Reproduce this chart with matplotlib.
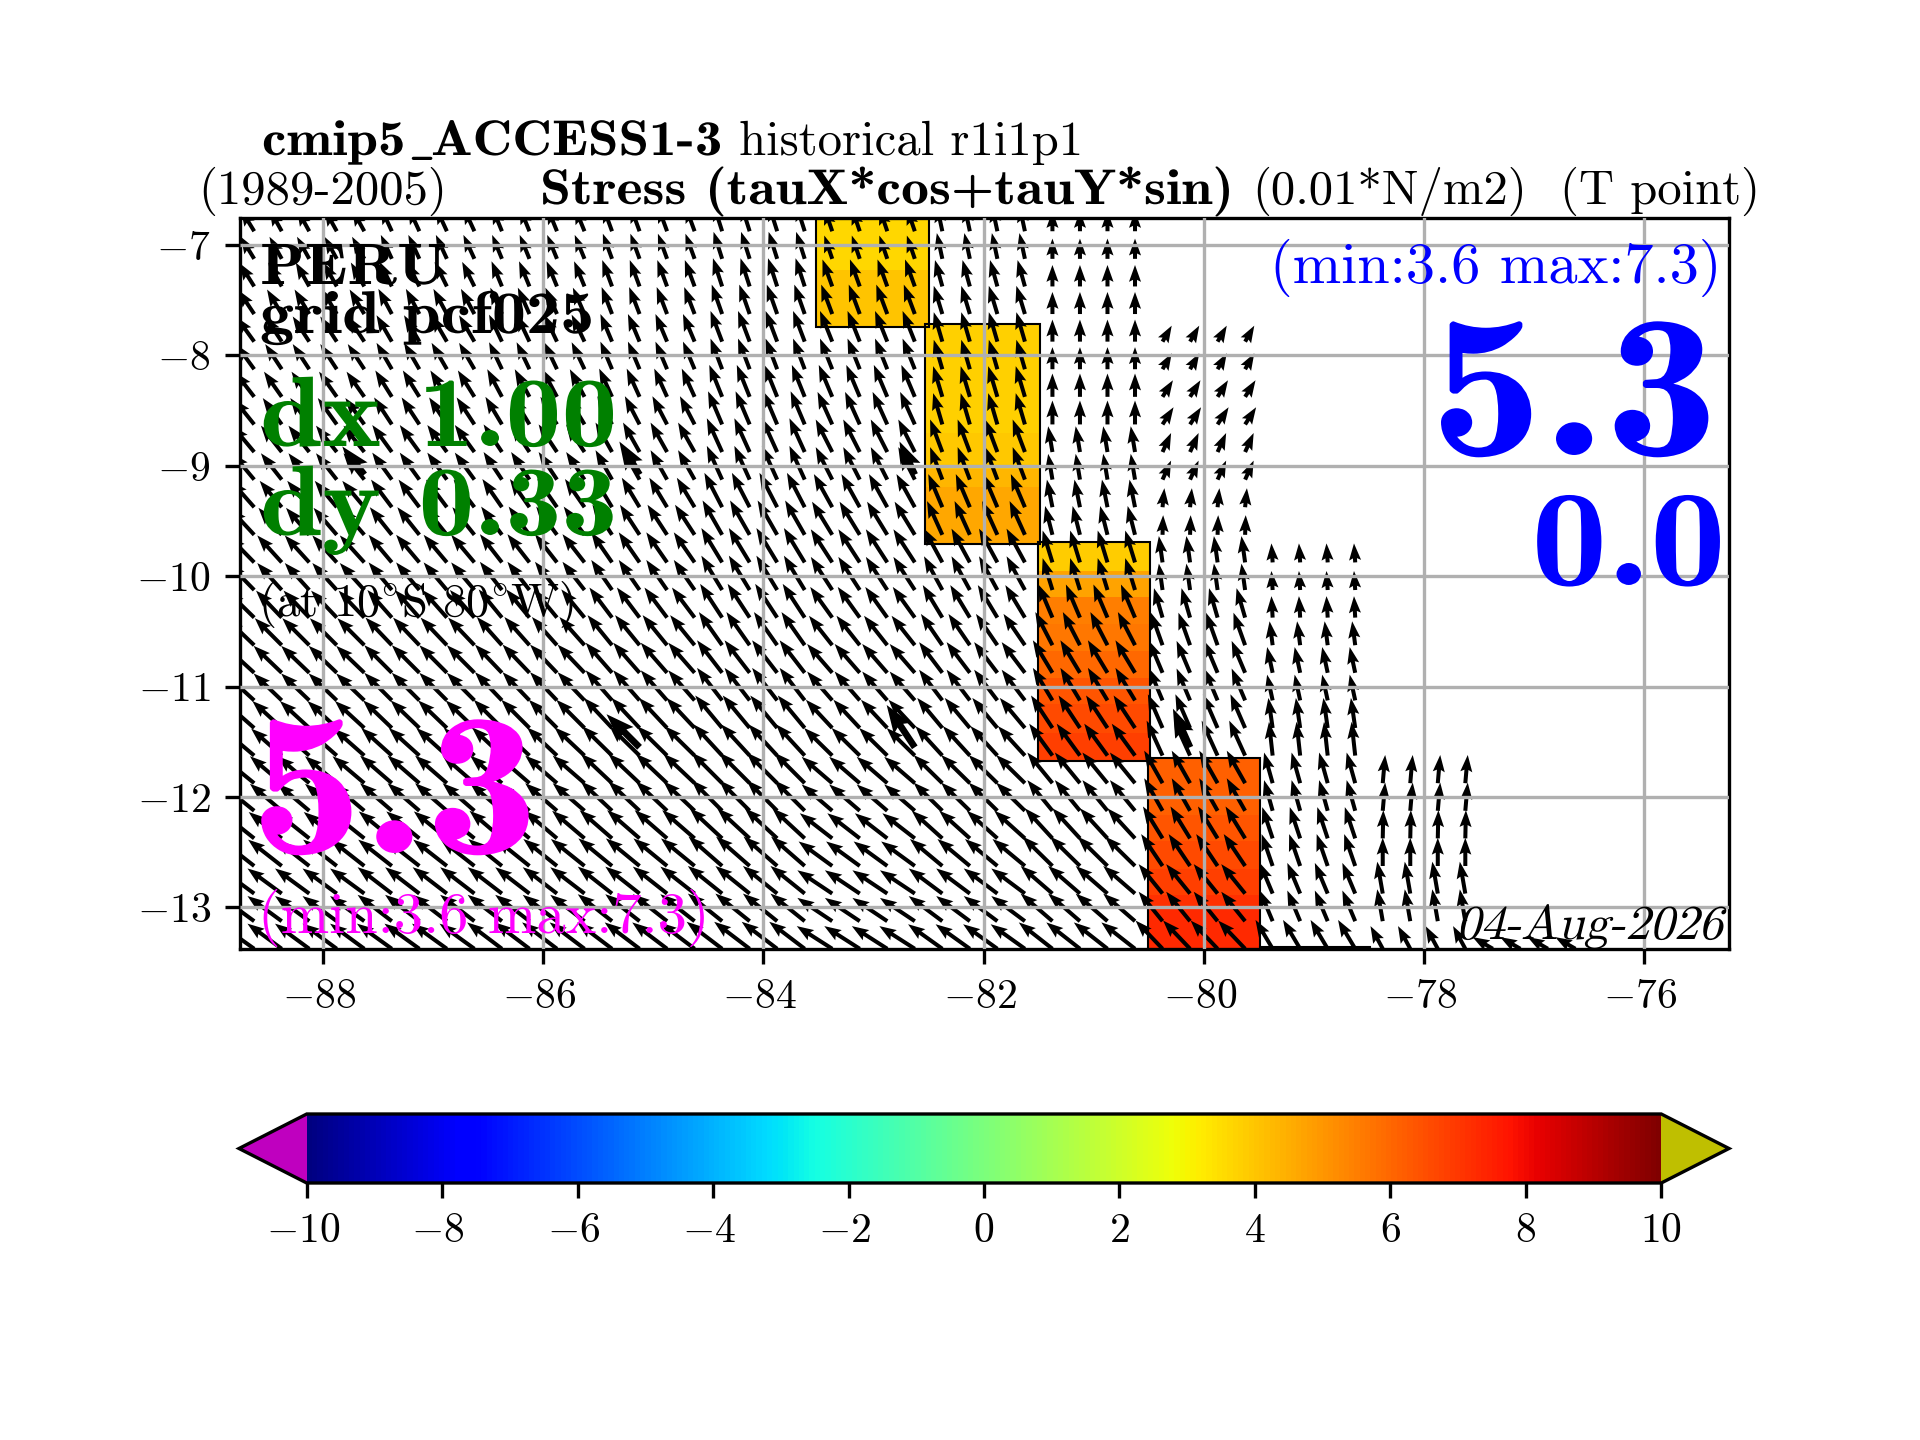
#!/usr/bin/env python
import numpy as np
import matplotlib
matplotlib.use("Agg")
import matplotlib.pyplot as plt
from matplotlib.patches import Rectangle
from matplotlib.patheffects import AbstractPathEffect
from matplotlib.transforms import Affine2D, ScaledTranslation

nan = float("nan")

plt.rcParams["font.family"] = ["cmr10", "DejaVu Sans"]
plt.rcParams["mathtext.fontset"] = "cm"
plt.rcParams["axes.formatter.use_mathtext"] = True
plt.rcParams["axes.unicode_minus"] = True

# model cells: 1 deg in x, 1/3 deg in y
cell_lon = [-89, -88, -87, -86, -85, -84, -83, -82, -81, -80, -79, -78, -77]
cell_lat = [-7.0, -7.33, -7.67, -8.0, -8.33, -8.67, -9.0, -9.33, -9.67, -10.0,
            -10.33, -10.67, -11.0, -11.33, -11.67, -12.0, -12.33, -12.67, -13.0, -13.33]

tau_u = [
    [-2.2, -2.0, -1.8, -1.6, -1.5, -1.4, -1.3, -0.9, 0.0, nan, nan, nan, nan],
    [-2.4, -2.2, -2.0, -1.7, -1.6, -1.5, -1.6, -1.2, 0.0, nan, nan, nan, nan],
    [-2.6, -2.4, -2.2, -1.9, -1.7, -1.7, -1.8, -1.4, 0.0, nan, nan, nan, nan],
    [-2.9, -2.7, -2.5, -2.1, -1.9, -1.9, -2.0, -1.4, 0.0, 1.5, nan, nan, nan],
    [-3.1, -2.9, -2.7, -2.4, -2.1, -2.1, -2.2, -1.5, 0.0, 1.7, nan, nan, nan],
    [-3.3, -3.1, -2.9, -2.7, -2.4, -2.3, -2.4, -1.5, 0.0, 1.8, nan, nan, nan],
    [-3.6, -3.4, -3.2, -3.0, -2.7, -2.5, -2.7, -2.0, -0.7, 1.4, nan, nan, nan],
    [-3.8, -3.6, -3.4, -3.2, -2.9, -2.9, -3.0, -2.3, -0.9, 0.3, nan, nan, nan],
    [-4.0, -3.8, -3.6, -3.4, -3.2, -3.2, -3.3, -2.5, -1.2, 0.1, nan, nan, nan],
    [-4.2, -4.0, -3.8, -3.6, -3.4, -3.4, -3.5, -3.0, -1.6, -0.6, -0.2, nan, nan],
    [-4.4, -4.2, -4.0, -3.8, -3.7, -3.6, -3.6, -3.2, -2.3, -1.4, -0.2, nan, nan],
    [-4.5, -4.4, -4.3, -4.1, -4.0, -3.8, -3.8, -3.5, -2.8, -1.9, -0.5, nan, nan],
    [-4.7, -4.6, -4.5, -4.4, -4.3, -4.1, -4.1, -3.8, -3.2, -2.2, -0.9, nan, nan],
    [-4.9, -4.8, -4.7, -4.6, -4.6, -4.4, -4.3, -4.1, -3.5, -2.4, -0.7, nan, nan],
    [-5.1, -5.0, -5.0, -4.9, -4.9, -4.7, -4.6, -4.4, -3.8, -2.6, -0.6, nan, nan],
    [-5.3, -5.2, -5.2, -5.2, -5.1, -5.0, -5.0, -4.7, -4.1, -3.0, -1.4, 0.4, nan],
    [-5.4, -5.4, -5.4, -5.3, -5.3, -5.3, -5.3, -5.0, -4.5, -3.2, -1.7, 0.1, nan],
    [-5.5, -5.5, -5.5, -5.5, -5.5, -5.5, -5.5, -5.3, -4.9, -3.5, -1.8, 0.0, nan],
    [-5.6, -5.6, -5.6, -5.6, -5.6, -5.6, -5.7, -5.5, -5.2, -3.9, -2.1, -0.9, nan],
    [-5.6, -5.6, -5.7, -5.7, -5.7, -5.8, -5.8, -5.6, -5.5, -4.4, -2.8, -2.0, -3.3],
]
tau_v = [
    [3.6, 3.6, 3.9, 3.9, 4.1, 4.4, 3.8, 4.2, 3.3, nan, nan, nan, nan],
    [3.8, 3.9, 4.0, 4.1, 4.3, 4.6, 4.4, 4.3, 3.5, nan, nan, nan, nan],
    [3.9, 4.0, 4.1, 4.3, 4.4, 4.8, 4.8, 4.6, 3.6, nan, nan, nan, nan],
    [4.0, 4.1, 4.3, 4.4, 4.5, 5.0, 5.0, 4.8, 3.6, 2.6, nan, nan, nan],
    [4.0, 4.1, 4.3, 4.5, 4.6, 5.2, 5.2, 5.0, 3.8, 2.7, nan, nan, nan],
    [4.1, 4.3, 4.4, 4.5, 4.6, 5.4, 5.3, 5.1, 3.9, 2.8, nan, nan, nan],
    [4.3, 4.3, 4.4, 4.5, 4.8, 5.5, 5.3, 5.3, 4.2, 3.1, nan, nan, nan],
    [4.3, 4.3, 4.5, 4.6, 4.8, 5.6, 5.4, 5.4, 4.5, 3.1, nan, nan, nan],
    [4.3, 4.4, 4.5, 4.6, 4.9, 5.6, 5.4, 5.5, 4.7, 3.2, nan, nan, nan],
    [4.3, 4.4, 4.5, 4.6, 4.9, 5.6, 5.4, 5.5, 5.2, 4.3, 3.1, nan, nan],
    [4.3, 4.4, 4.5, 4.6, 4.9, 5.5, 5.0, 5.3, 5.4, 4.8, 3.5, nan, nan],
    [4.3, 4.4, 4.5, 4.6, 4.9, 5.4, 4.8, 5.1, 5.4, 5.3, 3.9, nan, nan],
    [4.3, 4.4, 4.5, 4.6, 4.9, 5.3, 4.7, 5.0, 5.3, 5.2, 4.2, nan, nan],
    [4.3, 4.4, 4.5, 4.6, 4.9, 5.3, 4.6, 4.9, 5.3, 5.5, 4.9, nan, nan],
    [4.3, 4.4, 4.5, 4.6, 4.8, 5.1, 4.5, 4.8, 5.2, 5.7, 5.5, nan, nan],
    [4.3, 4.4, 4.5, 4.5, 4.8, 5.0, 4.3, 4.6, 5.0, 5.3, 5.0, 4.6, nan],
    [4.3, 4.3, 4.4, 4.5, 4.6, 4.9, 4.1, 4.5, 4.9, 5.2, 5.1, 4.6, nan],
    [4.3, 4.3, 4.3, 4.4, 4.5, 4.8, 4.0, 4.4, 4.8, 5.2, 5.2, 4.6, nan],
    [4.1, 4.1, 4.3, 4.3, 4.4, 4.5, 3.8, 4.1, 4.5, 4.8, 5.0, 5.2, nan],
    [4.0, 4.1, 4.1, 4.3, 4.3, 4.4, 3.7, 4.0, 4.3, 4.6, 4.7, 3.7, 1.9],
]

# six arrows that come out fatter and longer
fat_lon = [-87.625, -85.125, -82.625, -85.125, -82.625, -80.125]
fat_lat = [-9.08, -9.08, -9.08, -11.55, -11.55, -11.55]
fat_u = [-3.6, -3.3, -2.5, -5.4, -4.6, -2.8]
fat_v = [4.6, 5.4, 5.4, 5.4, 6.9, 6.3]

# coastal stress boxes: lon edges, lat edges of bands, value per band
box1_lon = [-83.52, -82.5]
box1_lat = [-6.6, -7.23, -7.74]
box1_val = [3.66, 4.04]
box2_lon = [-82.53, -81.49]
box2_lat = [-7.715, -8.70, -9.03, -9.19, -9.71]
box2_val = [3.8, 3.95, 4.3, 4.64]
box3_lon = [-81.51, -80.49]
box3_lat = [-9.69, -9.95, -10.19, -10.43, -10.68, -10.92, -11.16, -11.42, -11.676]
box3_val = [3.88, 4.7, 5.5, 5.68, 5.95, 6.4, 6.58, 6.85]
box4_lon = [-80.51, -79.49]
box4_lat = [-11.645, -12.16, -12.40, -12.65, -12.89, -13.01, -13.45]
box4_val = [6.17, 6.4, 6.58, 6.85, 7.12, 7.3]
boxes = [(box1_lon, box1_lat, box1_val), (box2_lon, box2_lat, box2_val),
         (box3_lon, box3_lat, box3_val), (box4_lon, box4_lat, box4_val)]

xticks = [-88, -86, -84, -82, -80, -78, -76]
yticks = [-7, -8, -9, -10, -11, -12, -13]
cbar_ticks = [-10, -8, -6, -4, -2, 0, 2, 4, 6, 8, 10]

fig = plt.figure(figsize=(6.4, 4.8), dpi=300)
ax = fig.add_axes([240 / 1920, 1 - 949 / 1440, 1489 / 1920, 731 / 1440])

cmap = plt.get_cmap("jet").copy()
cmap.set_under((0.75, 0, 0.75))
cmap.set_over((0.75, 0.75, 0))

for b_lon, b_lat, b_val in boxes:
    pm = ax.pcolormesh(b_lon, b_lat, np.array(b_val).reshape(-1, 1), cmap=cmap, vmin=-10, vmax=10, zorder=0.5)
    ax.add_patch(Rectangle((b_lon[0], b_lat[-1]), b_lon[1] - b_lon[0], b_lat[0] - b_lat[-1],
                           fill=False, ec="k", lw=0.5, zorder=0.9))
# thin strip along the bottom edge
ax.add_patch(Rectangle((-79.49, -13.5), 1.0, 0.145, fill=False, ec="k", lw=0.5, zorder=0.9))


def lookup(lon, lat):
    i = int(np.argmin(np.abs(np.array(cell_lat) - lat)))
    j = int(np.argmin(np.abs(np.array(cell_lon) - lon)))
    return tau_u[i][j], tau_v[i][j]


# the field is plotted on the 0.25 deg grid
xs, ys, us, vs = [], [], [], []
for lat in np.arange(-6.875, -13.5, -0.25):
    for lon in np.arange(-88.625, -76.5, 0.25):
        u, v = lookup(lon, lat)
        if np.isnan(u):
            continue
        xs.append(lon)
        ys.append(lat)
        us.append(u)
        vs.append(v)

head = dict(headwidth=3, headlength=4.2, headaxislength=3.7)
ax.quiver(xs, ys, us, vs, angles="xy", scale_units="xy", scale=18, units="width", width=0.0027, zorder=1, **head)
ax.quiver(fat_lon, fat_lat, fat_u, fat_v, angles="xy", scale_units="xy", scale=18,
          units="width", width=0.0045, zorder=1, **head)

ax.set_xlim(-88.754, -75.23)
ax.set_ylim(-13.377, -6.755)
ax.set_xticks(xticks)
ax.set_yticks(yticks)
ax.grid(True)
ax.set_axisbelow(False)

cax = fig.add_axes([239 / 1920, 1 - 1183 / 1440, 1490 / 1920, 69 / 1440])
sm = plt.cm.ScalarMappable(cmap=cmap, norm=plt.Normalize(-10, 10))
fig.colorbar(sm, cax=cax, orientation="horizontal", extend="both", ticks=cbar_ticks)

# mathtext minus sits a few px right of where the original has it
shift = ScaledTranslation(-4 / 300, 0, fig.dpi_scale_trans)
for lab in ax.get_xticklabels() + cax.get_xticklabels():
    if "-" in lab.get_text() or "\u2212" in lab.get_text():
        lab.set_transform(lab.get_transform() + shift)


class Warp(AbstractPathEffect):
    # stretch for cmb10 (narrower than the original's bold), skew for the slanted date
    def __init__(self, x0, y0, k=1, skew=0):
        super().__init__()
        self.m = Affine2D().translate(-x0, -y0).skew_deg(skew, 0).scale(k, 1).translate(x0, y0)

    def draw_path(self, renderer, gc, tpath, affine, rgbFace=None):
        renderer.draw_path(gc, tpath, affine + self.m, rgbFace)


def put(x, y, s, k=1, skew=0, **kw):
    # x, y in pixels of the final png (y from the top), baseline anchored
    t = fig.text(x / 1920, 1 - y / 1440, s, va="baseline", zorder=5, **kw)
    if k != 1 or skew:
        t.set_path_effects([Warp(x, 1440 - y, k, skew)])
    return t


bold = ["cmb10", "DejaVu Sans"]
put(262, 155, "cmip5", k=1.10, family=bold, fontsize=12)
put(408, 155, r"$\_$", fontsize=12)
put(431, 155, "ACCESS1-3", k=1.10, family=bold, fontsize=12)
put(739, 155, "historical r1i1p1", fontsize=11.7)
put(198, 204, "(1989-2005)", fontsize=11.7)
put(540, 204, "Stress (tauX*cos+tauY*sin)", k=1.115, family=bold, fontsize=12)
put(1252, 204, "(0.01*N/m2)", fontsize=11.7)
put(1560, 204, "(T point)", fontsize=11.7)

put(260, 284, "PERU", k=1.12, family=bold, fontsize=14)
put(260, 333, "grid pcf025", k=1.13, family=bold, fontsize=14.5)
put(260, 446, "dx 1.00", k=1.12, family=bold, color="green", fontsize=24)
put(260, 535, "dy 0.33", k=1.12, family=bold, color="green", fontsize=24)
put(258, 616, r"(at 10$^{\circ}$S 80$^{\circ}$W)", fontsize=11.2)
put(250, 853, "5.3", k=1.106, family=bold, color="magenta", fontsize=49)
put(258, 933, "(min:3.6 max:7.3)", color="magenta", fontsize=14)

put(1722, 283, "(min:3.6 max:7.3)", color="blue", fontsize=14, ha="right")
put(1718, 455, "5.3", k=1.106, family=bold, color="blue", fontsize=49, ha="right")
put(1726, 585, "0.0", k=1.11, family=bold, color="blue", fontsize=33, ha="right")
put(1456, 939, "04-Aug-2026", skew=14, fontsize=11.7)

fig.savefig("out.png", dpi=300)
